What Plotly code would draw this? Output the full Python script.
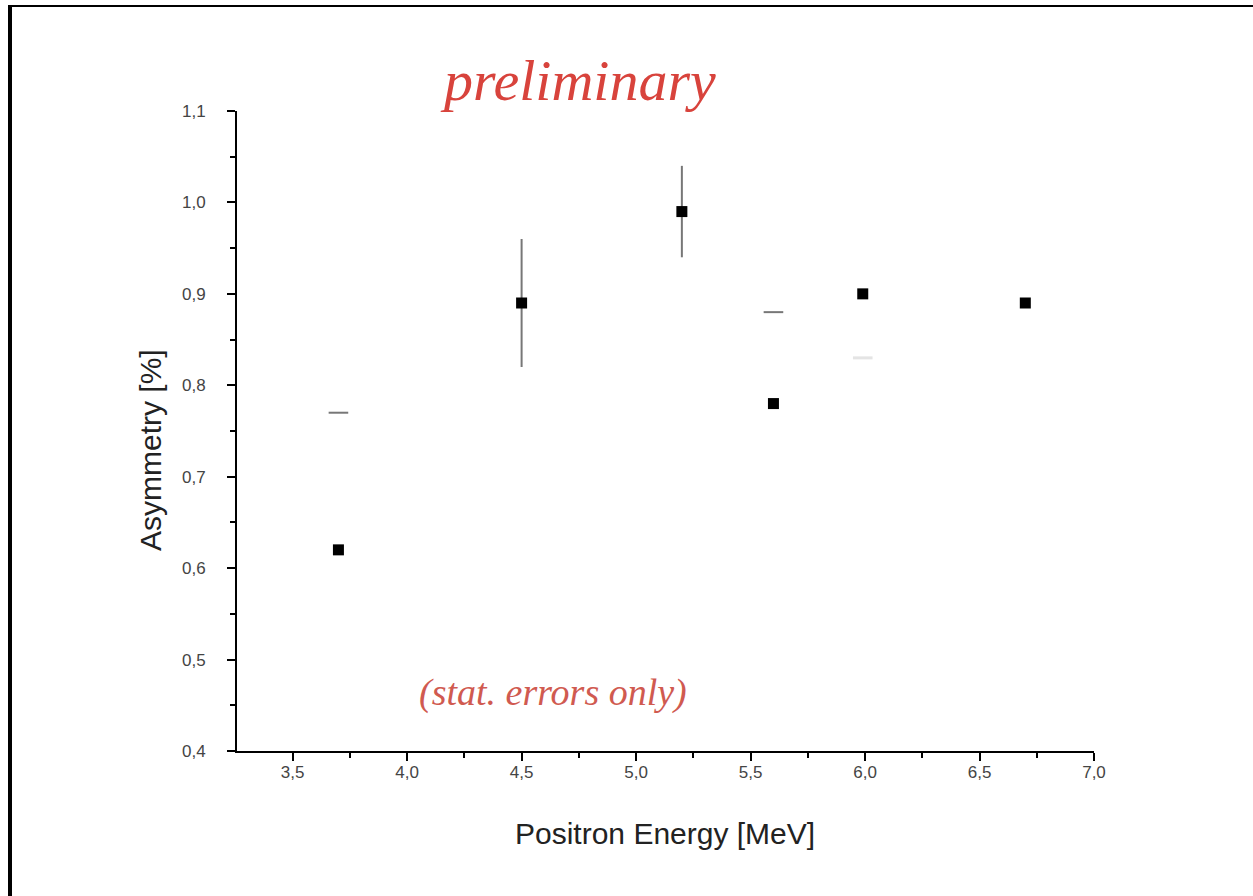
import plotly.graph_objects as go

# Data
energy = [3.7, 4.5, 5.2, 5.6, 5.99, 6.7]
asymmetry = [0.62, 0.89, 0.99, 0.78, 0.90, 0.89]
stat_err = [0.0, 0.07, 0.05, 0.0, 0.0, 0.0]

# faint stray error-bar ends visible in the picture
dash_x = [3.7, 5.6]
dash_y = [0.77, 0.88]
faint_x = [5.99]
faint_y = [0.83]

x_ticks = [3.5, 4.0, 4.5, 5.0, 5.5, 6.0, 6.5, 7.0]
y_ticks = [0.4, 0.5, 0.6, 0.7, 0.8, 0.9, 1.0, 1.1]

fig = go.Figure()

fig.add_trace(go.Scatter(
    x=dash_x, y=dash_y, mode="markers",
    marker=dict(symbol="line-ew", size=14, line=dict(color="#777777", width=2)),
    hoverinfo="skip", showlegend=False))
fig.add_trace(go.Scatter(
    x=faint_x, y=faint_y, mode="markers",
    marker=dict(symbol="line-ew", size=14, line=dict(color="#e4e4e4", width=3)),
    hoverinfo="skip", showlegend=False))

fig.add_trace(go.Scatter(
    x=energy, y=asymmetry, mode="markers",
    marker=dict(symbol="square", size=11, color="black"),
    error_y=dict(type="data", array=stat_err, visible=True,
                 color="#777777", thickness=2, width=0),
    showlegend=False))

W, H = 1253, 896
L, R, T, B = 237, 1094, 111, 751

axis_common = dict(
    showline=True, linecolor="black", linewidth=2,
    ticks="outside", ticklen=8, tickwidth=2, tickcolor="black",
    showgrid=False, zeroline=False, mirror=False,
    tickfont=dict(family="Liberation Sans, Arial", size=17, color="#444444"),
)

fig.update_layout(
    width=W, height=H, autosize=False,
    paper_bgcolor="white", plot_bgcolor="white",
    margin=dict(l=L, r=W - R, t=T, b=H - B, pad=0),
    separators=",.",
    xaxis=dict(range=[3.257, 7.0], tickvals=x_ticks, tickformat=".1f",
               ticklabelstandoff=-3,
               minor=dict(dtick=0.25, tick0=3.5, ticks="outside", ticklen=5,
                          tickwidth=2, tickcolor="black"),
               **axis_common),
    yaxis=dict(range=[0.4, 1.1], tickvals=y_ticks, tickformat=".1f",
               ticklabelstandoff=18,
               minor=dict(dtick=0.05, tick0=0.4, ticks="outside", ticklen=5,
                          tickwidth=2, tickcolor="black"),
               **axis_common),
    font=dict(family="Liberation Sans, Arial", color="black"),
)

annotations = [
    dict(text="Positron Energy [MeV]", x=665, y=H - 833,
         font=dict(size=30, family="Liberation Sans, Arial", color="#222222")),
    dict(text="Asymmetry [%]", x=150, y=H - 450, textangle=-90,
         font=dict(size=30, family="Liberation Sans, Arial", color="#222222")),
    dict(text="<i>preliminary</i>", x=578, y=H - 80,
         font=dict(size=58, family="Liberation Serif, serif", color="#d8433c")),
    dict(text="<i>(stat. errors only)</i>", x=553, y=H - 692,
         font=dict(size=38, family="Liberation Serif, serif", color="#d05a50")),
]
for a in annotations:
    xpx, ypx = a.pop("x"), a.pop("y")
    fig.add_annotation(x=(xpx - L) / (R - L), y=(ypx - (H - B)) / (B - T),
                       xref="paper", yref="paper", showarrow=False,
                       xanchor="center", yanchor="middle", **a)

# outer frame (left and top edges visible in the reference)
fig.add_shape(type="line", xref="paper", yref="paper",
              x0=(10 - L) / (R - L), x1=(10 - L) / (R - L),
              y0=(H - 896 - (H - B)) / (B - T), y1=(H - 6 - (H - B)) / (B - T),
              line=dict(color="black", width=4))
fig.add_shape(type="line", xref="paper", yref="paper",
              x0=(8 - L) / (R - L), x1=(1253 - L) / (R - L),
              y0=(H - 6 - (H - B)) / (B - T), y1=(H - 6 - (H - B)) / (B - T),
              line=dict(color="black", width=2))

fig.write_html("out.html", config={"displayModeBar": False},
               post_script="document.body.style.margin='0';document.body.style.overflow='hidden';")
